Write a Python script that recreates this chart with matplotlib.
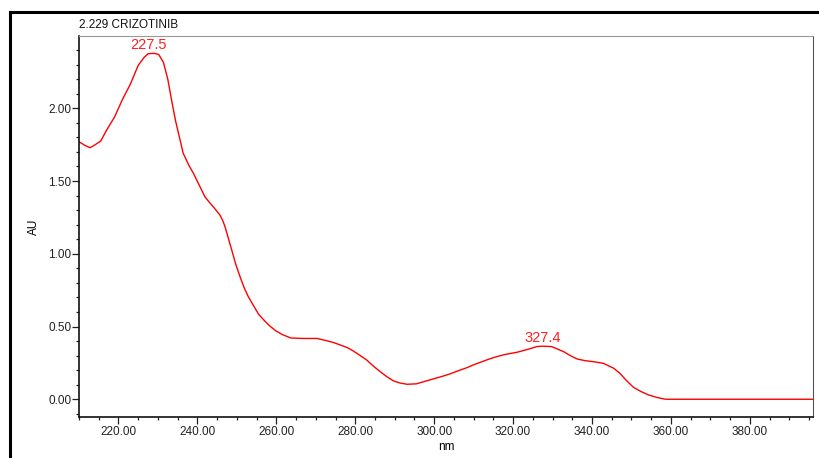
"""PDA spectrum plot - 2.229 CRIZOTINIB"""

import matplotlib
matplotlib.use("Agg")
import matplotlib.pyplot as plt
from matplotlib.lines import Line2D
from matplotlib.ticker import MultipleLocator, FormatStrFormatter

matplotlib.rcParams["font.family"] = ["Liberation Sans", "DejaVu Sans"]

# spectrum
wavelength = [210.0, 211.5, 212.8, 214.0, 215.5, 217.0, 219.0, 221.0, 223.0, 225.0,
              226.5, 227.5, 229.0, 230.2, 231.4, 232.5, 233.5, 234.5, 236.4, 237.8,
              239.0, 240.5, 241.9, 243.0, 244.0, 245.7, 246.4, 247.0, 248.7, 249.7,
              250.8, 251.8, 252.9, 254.3, 255.5, 257.0, 258.3, 259.9, 261.5, 263.7,
              265.5, 267.0, 270.3, 272.8, 274.5, 276.0, 278.0, 279.3, 281.0, 282.9,
              284.5, 286.3, 288.0, 289.7, 291.3, 293.1, 295.5, 297.5, 299.8, 302.0,
              304.0, 306.0, 308.3, 310.0, 312.1, 314.0, 315.9, 318.0, 321.0, 324.0,
              326.0, 327.4, 329.8, 332.8, 334.5, 336.2, 338.3, 340.4, 342.9, 345.5,
              347.0, 348.5, 350.5, 352.5, 354.3, 356.5, 358.6, 396.0]
absorbance = [1.770, 1.745, 1.729, 1.748, 1.775, 1.850, 1.940, 2.060, 2.165, 2.295,
              2.350, 2.375, 2.378, 2.370, 2.315, 2.200, 2.050, 1.910, 1.691, 1.610,
              1.553, 1.470, 1.392, 1.355, 1.324, 1.267, 1.230, 1.186, 1.026, 0.930,
              0.843, 0.770, 0.705, 0.640, 0.585, 0.540, 0.505, 0.470, 0.445, 0.421,
              0.419, 0.418, 0.418, 0.402, 0.390, 0.375, 0.355, 0.335, 0.305, 0.270,
              0.230, 0.190, 0.155, 0.126, 0.112, 0.103, 0.106, 0.122, 0.140, 0.157,
              0.174, 0.195, 0.217, 0.237, 0.258, 0.277, 0.293, 0.308, 0.323, 0.345,
              0.362, 0.365, 0.362, 0.327, 0.300, 0.277, 0.265, 0.258, 0.247, 0.213,
              0.180, 0.135, 0.082, 0.052, 0.030, 0.012, 0.000, 0.000]

peak_nm = [227.5, 327.4]
peak_au = [2.378, 0.365]
peak_labels = ["227.5", "327.4"]

title = "2.229 CRIZOTINIB"

fig = plt.figure(figsize=(8.2, 4.58), dpi=100)
ax = fig.add_axes([79 / 820, 1 - 417 / 458, (813 - 79) / 820, (417 - 36) / 458])

ax.plot(wavelength, absorbance, color="#ff0000", linewidth=1.0)

for x, y, lab in zip(peak_nm, peak_au, peak_labels):
    ax.annotate(lab, xy=(x, y), xytext=(0, 1), textcoords="offset points",
                ha="center", va="bottom", color="#ff2020", fontsize=10.5)

ax.set_xlim(210, 396)
ax.set_ylim(-0.122, 2.497)

ax.xaxis.set_major_locator(MultipleLocator(20))
ax.xaxis.set_minor_locator(MultipleLocator(5))
ax.yaxis.set_major_locator(MultipleLocator(0.5))
ax.yaxis.set_minor_locator(MultipleLocator(0.1))
ax.xaxis.set_major_formatter(FormatStrFormatter("%.2f"))
ax.yaxis.set_major_formatter(FormatStrFormatter("%.2f"))

ax.tick_params(which="major", direction="out", length=5, width=0.9, labelsize=8.5,
               colors="#222222", pad=1.5)
ax.tick_params(which="minor", direction="out", length=2.5, width=0.9, colors="#222222")
ax.tick_params(axis="y", which="major", pad=0.5)

ax.set_xlabel("nm", fontsize=8.5, labelpad=2)
ax.set_ylabel("AU", fontsize=8.5, labelpad=6)

ax.spines["top"].set_color("#999999")
ax.spines["right"].set_color("#555555")
for side in ["left", "bottom"]:
    ax.spines[side].set_color("#111111")
    ax.spines[side].set_linewidth(1.2)

ax.text(0, 1.012, title, transform=ax.transAxes, ha="left", va="bottom",
        fontsize=8.5, color="#111111")

# outer frame (thick black lines, top and left)
fy = 1 - 12 / 458
fx = 10 / 820
fig.add_artist(Line2D([fx, 1], [fy, fy], transform=fig.transFigure, color="black", linewidth=2.2))
fig.add_artist(Line2D([fx, fx], [0, fy], transform=fig.transFigure, color="black", linewidth=2.2))

fig.savefig("out.png", dpi=100)
plt.close(fig)
